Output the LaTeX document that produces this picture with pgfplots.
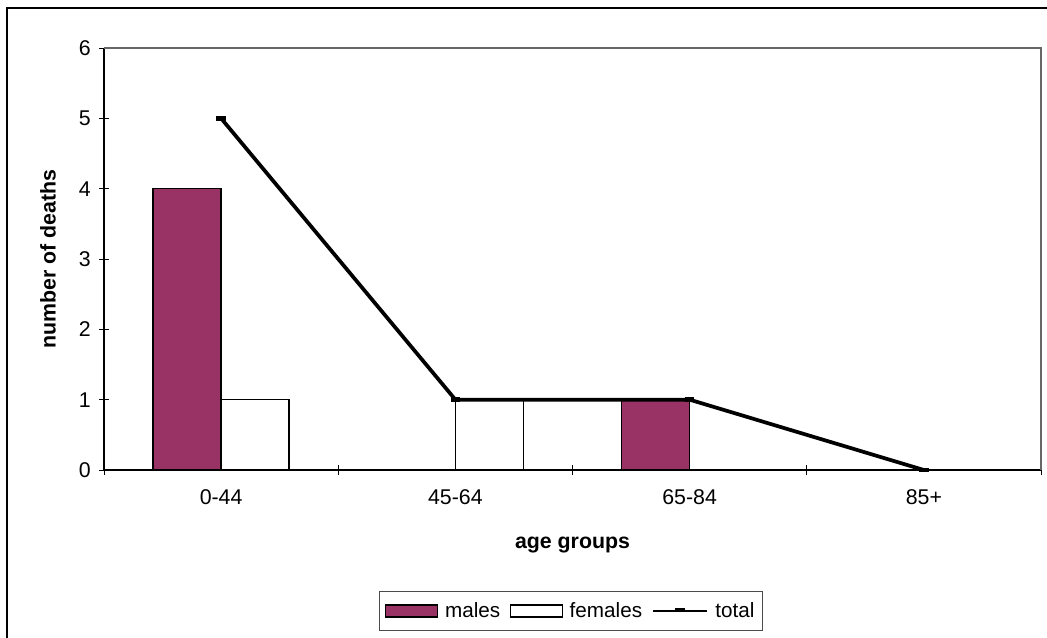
\documentclass[border=0pt]{standalone}
\usepackage{pgfplots}
\pgfplotsset{compat=1.18}
\usepackage{fontspec}
\setmainfont{Liberation Sans}
\definecolor{plum}{HTML}{993366}
\pgfplotsset{
  barlegend/.style={legend image code/.code={\draw[##1, line width=1.1pt] (0pt,-4.5pt) rectangle (39pt,4.5pt);}},
  linelegend/.style={legend image code/.code={\draw[##1, line width=2pt, mark=none] (0pt,0pt) -- (41pt,0pt); \draw[line width=3pt] (17pt,0.5pt) -- (24pt,0.5pt);}},
}
\pgfplotstableread{
x males females total
0 4 1 5
1 0 1 1
2 1 0 1
3 0 0 0
}\deaths
\begin{document}
\begin{tikzpicture}
\useasboundingbox (0,0) rectangle (785.25pt,477.75pt);
\fill[white] (0,0) rectangle (785.25pt,477.75pt);
\draw[black, line width=1.5pt] (5.25pt,-2pt) -- (5.25pt,471.75pt) -- (790pt,471.75pt);
\begin{axis}[
  at={(78pt,125.25pt)}, anchor=south west,
  width=702.75pt, height=316.5pt, scale only axis,
  font=\fontsize{16pt}{19pt}\selectfont,
  /pgf/number format/assume math mode=true,
  xmin=-0.5, xmax=3.5, ymin=0, ymax=6,
  axis lines=left, axis line style={-, black, line width=0.8pt},
  xtick={0,1,2,3}, xticklabels={0-44,45-64,65-84,85+},
  major x tick style={draw=none},
  minor xtick={-0.5,0.5,1.5,2.5,3.5},
  minor tick length=7pt,
  minor x tick style={black, line width=0.6pt},
  ytick={0,1,2,3,4,5,6},
  major tick length=7pt,
  tick align=center,
  y tick style={black, line width=0.6pt},
  yticklabel style={xshift=-3pt},
  xticklabel style={yshift=-8pt},
  xlabel={\textbf{age groups}},
  ylabel={\textbf{number of deaths}},
  xlabel style={at={(axis description cs:0.5,-0.178)}, anchor=center},
  ylabel style={at={(axis description cs:-0.0598,0.5)}, anchor=center, rotate=0},
  legend style={at={(0.4985,-0.334)}, anchor=center, draw=black!70, line width=0.6pt,
    legend columns=3, inner xsep=4pt, inner ysep=6pt,
    /tikz/every odd column/.append style={column sep=3pt},
    /tikz/every even column/.append style={column sep=5pt},
    font=\fontsize{15.5pt}{18pt}\selectfont},
  clip=false,
]
\draw[gray!80!black, line width=0.8pt] (rel axis cs:0,1) -- (rel axis cs:1,1) -- (rel axis cs:1,0);
\addplot[ybar, bar width=51pt, bar shift=-25.5pt, fill=plum, draw=black, line width=1.1pt, barlegend]
  table[x=x, y=males] {\deaths};
\addlegendentry{males}
\addplot[ybar, bar width=51pt, bar shift=25.5pt, fill=white, draw=black, line width=1.1pt, barlegend]
  table[x=x, y=females] {\deaths};
\addlegendentry{females}
\addplot[black, line width=2.8pt, mark=-, mark size=3.5pt, mark options={line width=3.5pt}, linelegend]
  table[x=x, y=total] {\deaths};
\addlegendentry{total}
\end{axis}
\end{tikzpicture}
\end{document}
